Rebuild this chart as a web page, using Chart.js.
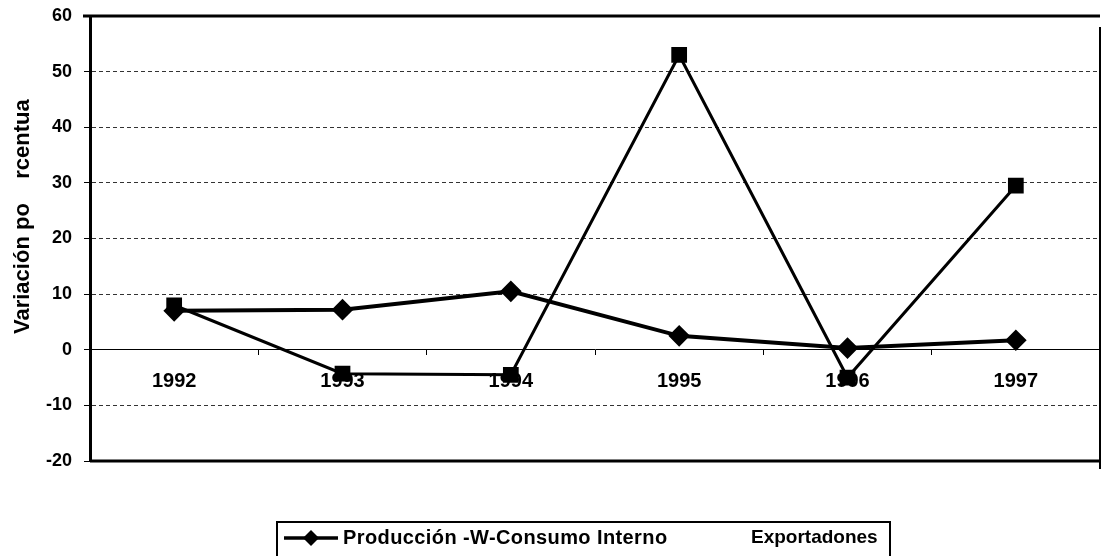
<!DOCTYPE html>
<html>
<head>
<meta charset="utf-8">
<script src="https://cdn.jsdelivr.net/npm/chart.js@4.4.1/dist/chart.umd.min.js"></script>
<style>
html,body{margin:0;padding:0;background:#fff;}
#c{display:block;}
</style>
</head>
<body>
<canvas id="c" width="1112" height="556"></canvas>
<script>
const categories = ['1992', '1993', '1994', '1995', '1996', '1997'];
const produccion = [7, 7.2, 10.5, 2.5, 0.3, 1.7];
const consumoInterno = [8, -4.3, -4.5, 53, -5, 29.5];
const yMin = -20, yMax = 60, yStep = 10;
const seriesNames = ['Producción', 'Consumo Interno', 'Exportadones'];
const yTitle = 'Variación po    rcentua';

const FONT = '"Liberation Sans", Arial, sans-serif';

const framePlugin = {
  id: 'frame',
  beforeDatasetsDraw(chart) {
    const {ctx, chartArea: a} = chart;
    ctx.save();
    ctx.strokeStyle = '#000';
    ctx.lineWidth = 3;
    ctx.beginPath();
    ctx.moveTo(a.left - 7, a.top); ctx.lineTo(a.right, a.top);
    ctx.moveTo(a.left, a.bottom); ctx.lineTo(a.right, a.bottom);
    ctx.stroke();
    ctx.lineWidth = 2;
    ctx.beginPath();
    ctx.moveTo(a.right, a.top + 11); ctx.lineTo(a.right, a.bottom + 8);
    ctx.stroke();
    ctx.restore();
  },
  afterDraw(chart) {
    const {ctx} = chart;
    ctx.save();
    // y title
    ctx.fillStyle = '#000';
    ctx.font = 'bold 22px ' + FONT;
    ctx.textAlign = 'left';
    ctx.textBaseline = 'middle';
    ctx.translate(23, 334);
    ctx.rotate(-Math.PI / 2);
    ctx.fillText(yTitle, 0, 0);
    ctx.restore();

    // legend
    ctx.save();
    ctx.strokeStyle = '#000';
    ctx.lineWidth = 2;
    ctx.strokeRect(277, 522, 613, 40);
    const ly = 538;
    ctx.lineWidth = 3.5;
    ctx.beginPath();
    ctx.moveTo(284, ly); ctx.lineTo(338, ly);
    ctx.stroke();
    ctx.fillStyle = '#000';
    ctx.beginPath();
    ctx.moveTo(311, ly - 8); ctx.lineTo(319, ly); ctx.lineTo(311, ly + 8); ctx.lineTo(303, ly);
    ctx.closePath(); ctx.fill();
    ctx.font = 'bold 20px ' + FONT;
    ctx.textAlign = 'left';
    ctx.textBaseline = 'middle';
    if ('letterSpacing' in ctx) ctx.letterSpacing = '0.4px';
    ctx.fillText(seriesNames[0] + ' -W-' + seriesNames[1], 343, ly);
    if ('letterSpacing' in ctx) ctx.letterSpacing = '0px';
    ctx.font = 'bold 19px ' + FONT;
    ctx.fillText(seriesNames[2], 751, ly);
    ctx.restore();
  }
};

new Chart(document.getElementById('c'), {
  type: 'line',
  data: {
    labels: categories,
    datasets: [
      {
        label: seriesNames[0],
        data: produccion,
        borderColor: '#000',
        backgroundColor: '#000',
        borderWidth: 4,
        pointStyle: 'rectRot',
        pointRadius: 8,
        pointBackgroundColor: '#000',
        pointBorderColor: '#000',
        tension: 0
      },
      {
        label: seriesNames[1],
        data: consumoInterno,
        borderColor: '#000',
        backgroundColor: '#000',
        borderWidth: 3,
        pointStyle: 'rect',
        pointRadius: 9,
        pointBackgroundColor: '#000',
        pointBorderColor: '#000',
        tension: 0
      }
    ]
  },
  options: {
    responsive: false,
    animation: false,
    devicePixelRatio: 1,
    layout: {padding: {left: 0, right: 10, top: 16, bottom: 95}},
    plugins: {
      legend: {display: false},
      title: {display: false},
      tooltip: {enabled: false}
    },
    scales: {
      x: {
        type: 'category',
        position: {y: 0},
        offset: true,
        grid: {display: true, drawOnChartArea: false, drawTicks: true, tickLength: 5, color: '#000', offset: true},
        border: {display: true, color: '#000', width: 1},
        ticks: {color: '#000', font: {family: FONT, size: 20, weight: 'bold'}, padding: 15, maxRotation: 0}
      },
      y: {
        min: yMin,
        max: yMax,
        afterFit(scale) { scale.width = 90; scale.paddingTop = 0; scale.paddingBottom = 0; },
        ticks: {stepSize: yStep, color: '#000', font: {family: FONT, size: 18, weight: 'bold'}, padding: 12},
        grid: {
          color: (ctx) => {
            const v = ctx.tick ? ctx.tick.value : null;
            return (v === 0 || v === yMin || v === yMax) ? 'rgba(0,0,0,0)' : '#333';
          },
          lineWidth: 1,
          drawTicks: true,
          tickLength: 6,
          tickColor: '#000',
          tickWidth: 1
        },
        border: {display: true, color: '#000', width: 3, dash: [4, 3]}
      }
    }
  },
  plugins: [framePlugin]
});
</script>
</body>
</html>
